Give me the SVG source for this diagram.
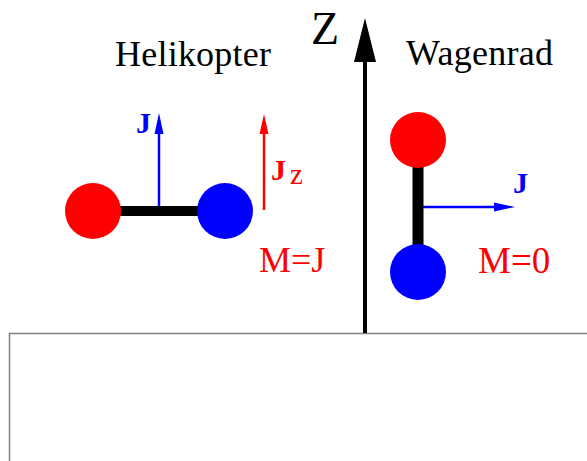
<svg xmlns="http://www.w3.org/2000/svg" width="587" height="461" viewBox="0 0 587 461">
<style>
.t{font-family:"Liberation Serif","Times New Roman",serif}
.lbl{font-size:36px;fill:#000}
.red{fill:#ff0000}
.blue{fill:#0000ff}
.b{font-weight:bold}
</style>
<rect width="587" height="461" fill="#fff"/>
<g id="box"><path d="M9.5 461 V333.5 H587" fill="none" stroke="#808080" stroke-width="1.5"/></g>
<g id="connectors">
<line x1="365" y1="333" x2="365" y2="58" stroke="#000" stroke-width="4"/>
<polygon points="365,18 354,62 376,62" fill="#000"/>
<line x1="159" y1="211" x2="159" y2="130" stroke="#0000ff" stroke-width="2.5"/>
<polygon points="159,113 154.5,134 163.5,134" fill="#0000ff"/>
<line x1="264" y1="210" x2="264" y2="130" stroke="#ff0000" stroke-width="2.5"/>
<polygon points="264,114 259.5,134 268.5,134" fill="#ff0000"/>
<line x1="418" y1="207" x2="498" y2="207" stroke="#0000ff" stroke-width="2.5"/>
<polygon points="515,207 494,202.5 494,211.5" fill="#0000ff"/>
</g>
<g id="axis-label"><text class="t" x="311" y="44" font-size="46">Z</text></g>
<g id="helikopter">
<text class="t lbl" x="115" y="66" textLength="156">Helikopter</text>
<rect x="115" y="206" width="90" height="10" fill="#000"/>
<circle cx="93" cy="211" r="28" fill="#ff0000"/>
<circle cx="225" cy="211" r="28" fill="#0000ff"/>
<text class="t b blue" x="136" y="133" font-size="30">J</text>
<text class="t b red" x="271" y="180" font-size="30">J</text>
<text class="t red" x="290" y="184" font-size="29">z</text>
<text class="t red" x="259" y="272" font-size="36">M=J</text>
</g>
<g id="wagenrad">
<text class="t lbl" x="406" y="65" textLength="147">Wagenrad</text>
<rect x="412.5" y="160" width="11" height="90" fill="#000"/>
<circle cx="418" cy="140" r="28" fill="#ff0000"/>
<circle cx="418" cy="272" r="28" fill="#0000ff"/>
<text class="t b blue" x="513" y="193" font-size="30">J</text>
<text class="t red" x="478" y="273" font-size="37">M=0</text>
</g>
</svg>
